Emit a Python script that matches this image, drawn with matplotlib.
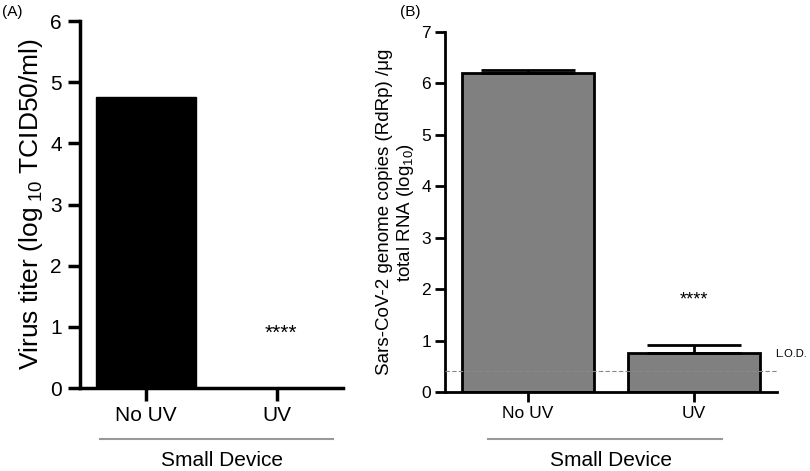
import matplotlib
matplotlib.use("Agg")
import matplotlib.pyplot as plt
import matplotlib.transforms as mtransforms

# data
groups = ["No UV", "UV"]
titer = [4.75, 0.0]
rna_mean = [6.21, 0.75]
rna_err = [0.06, 0.17]
lod = 0.41
sig_a = "****"
sig_b = "****"

plt.rcParams["font.family"] = ["Liberation Sans", "DejaVu Sans"]
plt.rcParams["mathtext.fontset"] = "custom"
plt.rcParams["mathtext.rm"] = "Liberation Sans"
plt.rcParams["mathtext.it"] = "Liberation Sans:italic"

fig = plt.figure(figsize=(8.1, 4.71), dpi=100)

### panel A
ax1 = fig.add_axes([0.0988, 0.1762, 0.3247, 0.7792])
x = list(range(len(groups)))
ax1.bar(x, titer, width=0.76, color="black", edgecolor="black")
ax1.set_xlim(-0.5, 1.5)
ax1.set_ylim(0, 6)
ax1.set_yticks(range(0, 7))
ax1.set_xticks(x)
ax1.set_xticklabels(groups)
ax1.tick_params(axis="both", labelsize=15, width=2.5, length=9, pad=4)
for s in ["top", "right"]:
    ax1.spines[s].set_visible(False)
for s in ["left", "bottom"]:
    ax1.spines[s].set_linewidth(2.5)
ax1.set_ylabel(r"Virus titer (log$_{\ 10}$ TCID50/ml)", fontsize=19, labelpad=4)
ax1.text(1.03, 0.9, sig_a, ha="center", va="center", fontsize=15)
tr1 = mtransforms.blended_transform_factory(ax1.transData, ax1.transAxes)
ax1.plot([-0.35, 1.42], [-0.139, -0.139], color="#999999", lw=1.5,
         transform=tr1, clip_on=False)
ax1.text(0.58, -0.197, "Small Device", transform=tr1, ha="center", va="center",
         fontsize=15)
fig.text(0.002, 0.975, "(A)", fontsize=11, va="center")

### panel B
ax2 = fig.add_axes([0.5494, 0.1677, 0.4099, 0.7643])
ax2.bar(x, rna_mean, width=0.795, color="#808080", edgecolor="black", lw=2,
        yerr=[[0, 0], rna_err], error_kw=dict(ecolor="black", elinewidth=2,
                                              capsize=34, capthick=2))
ax2.axhline(lod, color="#888888", lw=0.8, ls=(0, (4, 2)), zorder=3)
ax2.text(1.49, lod + 0.33, "L.O.D.", fontsize=8, va="center", ha="left")
ax2.set_xlim(-0.5, 1.5)
ax2.set_ylim(0, 7)
ax2.set_yticks(range(0, 8))
ax2.set_xticks(x)
ax2.set_xticklabels(groups)
ax2.tick_params(axis="both", labelsize=12.5, width=2, length=7, pad=3)
for s in ["top", "right"]:
    ax2.spines[s].set_visible(False)
for s in ["left", "bottom"]:
    ax2.spines[s].set_linewidth(2)
ax2.set_ylabel("Sars-CoV-2 genome copies (RdRp) /μg\n" + r"total RNA (log$_{10}$)",
               fontsize=13.5, labelpad=4, linespacing=1.1)
ax2.text(1.0, 1.79, sig_b, ha="center", va="center", fontsize=13)
tr2 = mtransforms.blended_transform_factory(ax2.transData, ax2.transAxes)
ax2.plot([-0.24, 1.17], [-0.13, -0.13], color="#999999", lw=1.5,
         transform=tr2, clip_on=False)
ax2.text(0.5, -0.19, "Small Device", transform=tr2, ha="center", va="center",
         fontsize=15)
fig.text(0.494, 0.975, "(B)", fontsize=11, va="center")

fig.savefig("out.png", dpi=100)
